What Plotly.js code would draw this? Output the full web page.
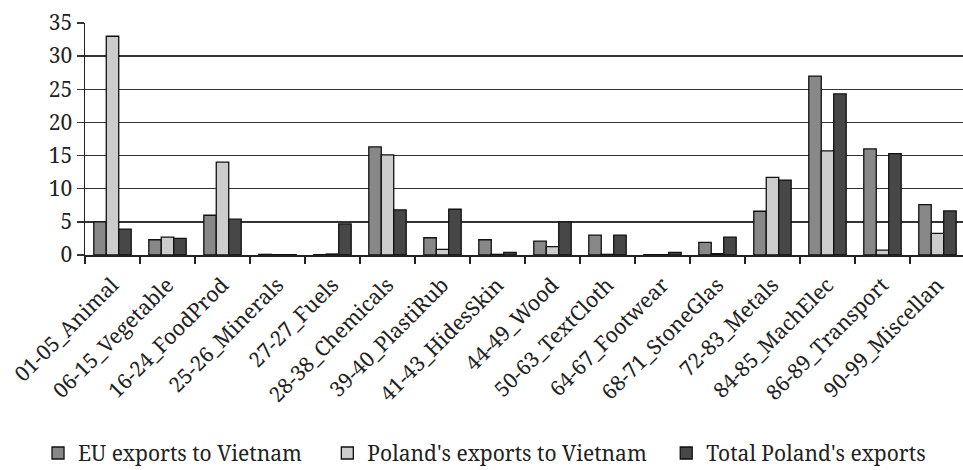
<!DOCTYPE html>
<html>
<head>
<meta charset="utf-8">
<script src="https://cdn.plot.ly/plotly-3.0.1.min.js"></script>
<style>html,body{margin:0;padding:0;background:#fff;}#chart{width:963px;height:470px;}</style>
</head>
<body>
<div id="chart"></div>
<script>
var categories = ["01-05_Animal","06-15_Vegetable","16-24_FoodProd","25-26_Minerals","27-27_Fuels","28-38_Chemicals","39-40_PlastiRub","41-43_HidesSkin","44-49_Wood","50-63_TextCloth","64-67_Footwear","68-71_StoneGlas","72-83_Metals","84-85_MachElec","86-89_Transport","90-99_Miscellan"];
var euExportsVietnam = [5.0, 2.3, 6.0, 0.1, 0.05, 16.3, 2.6, 2.3, 2.1, 3.0, 0.05, 1.9, 6.6, 27.0, 16.0, 7.6];
var polandExportsVietnam = [33.0, 2.7, 14.0, 0.05, 0.15, 15.1, 0.85, 0.1, 1.25, 0.1, 0.05, 0.2, 11.7, 15.7, 0.75, 3.25];
var totalPolandExports = [3.9, 2.5, 5.4, 0.05, 4.7, 6.8, 6.9, 0.4, 5.0, 3.0, 0.4, 2.7, 11.3, 24.3, 15.3, 6.65];
var seriesNames = ["EU exports to Vietnam", "Poland's exports to Vietnam", "Total Poland's exports"];
var yTicks = [0, 5, 10, 15, 20, 25, 30, 35];

var FONT = "Noto Serif, DejaVu Serif";
var FS = 21;
var colors = ["#888888", "#cccccc", "#474747"];
var values = [euExportsVietnam, polandExportsVietnam, totalPolandExports];
var legendIds = ["legend", "legend2", "legend3"];

var traces = values.map(function (v, i) {
  return {
    type: "bar",
    x: categories,
    y: v,
    name: seriesNames[i],
    legend: legendIds[i],
    marker: { color: colors[i], line: { color: "#111", width: 1.3 } },
    hoverinfo: "x+y+name"
  };
});

function legendAt(x) {
  return {
    x: x, y: -0.855, xref: "paper", yref: "paper", xanchor: "left", yanchor: "middle",
    orientation: "h", bgcolor: "rgba(0,0,0,0)", borderwidth: 0,
    font: { family: FONT, size: FS, color: "#222" }
  };
}

var layout = {
  width: 963, height: 470,
  margin: { l: 85, r: 0, t: 23, b: 215, autoexpand: false },
  paper_bgcolor: "#fff", plot_bgcolor: "#fff",
  barmode: "group", bargap: 0.32, bargroupgap: 0,
  font: { family: FONT, size: FS, color: "#222" },
  xaxis: {
    type: "category",
    range: [-0.5, 15.464],
    tickangle: -45,
    ticks: "outside", ticklen: 7, tickwidth: 1.3, tickcolor: "#222",
    tickson: "boundaries",
    ticklabelstandoff: 8,
    showline: true, linecolor: "#222", linewidth: 1.5,
    showgrid: false,
    tickfont: { family: FONT, size: FS, color: "#222" },
    automargin: false
  },
  yaxis: {
    range: [0, 35],
    tickvals: yTicks,
    ticks: "outside", ticklen: 7, tickwidth: 1.3, tickcolor: "#333",
    showline: true, linecolor: "#222", linewidth: 1.5,
    showgrid: true, gridcolor: "#333", gridwidth: 1.3,
    zeroline: false,
    tickfont: { family: FONT, size: FS, color: "#222" },
    automargin: false
  },
  showlegend: true,
  legend: legendAt(-0.0535),
  legend2: legendAt(0.276),
  legend3: legendAt(0.662)
};

Plotly.newPlot("chart", traces, layout, { displayModeBar: false, staticPlot: true });
</script>
</body>
</html>
